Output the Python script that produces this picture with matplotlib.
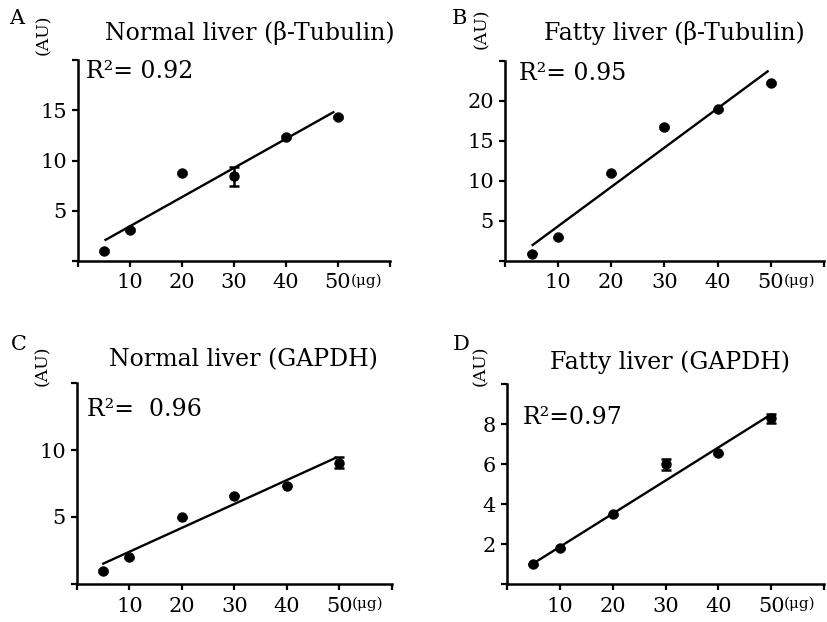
import matplotlib
matplotlib.use('Agg')
import matplotlib.pyplot as plt
import numpy as np

W, H = 828, 622

# protein loaded (ug)
dose = [5, 10, 20, 30, 40, 50]

# A: normal liver, beta-tubulin
a_vals = [0.95, 3.1, 8.8, 8.45, 12.3, 14.3]
a_err = [0.1, 0.1, 0.1, 0.95, 0.1, 0.1]
a_fit_x = [5.3, 49.1]
a_fit_y = [2.1, 14.8]

# B: fatty liver, beta-tubulin
b_vals = [0.93, 2.96, 10.96, 16.75, 18.96, 22.25]
b_err = [0.1, 0.1, 0.1, 0.1, 0.1, 0.1]
b_fit_x = [5.2, 49.4]
b_fit_y = [2.0, 23.7]

# C: normal liver, GAPDH
c_vals = [0.98, 2.0, 4.98, 6.58, 7.35, 9.05]
c_err = [0.05, 0.05, 0.05, 0.05, 0.05, 0.42]
c_fit_x = [5.0, 49.2]
c_fit_y = [1.52, 9.4]

# D: fatty liver, GAPDH
d_vals = [0.98, 1.78, 3.48, 5.98, 6.53, 8.28]
d_err = [0.03, 0.03, 0.03, 0.28, 0.03, 0.24]
d_fit_x = [5.3, 49.8]
d_fit_y = [1.08, 8.45]

titles = ['Normal liver (\u03b2-Tubulin)', 'Fatty liver (\u03b2-Tubulin)',
          'Normal liver (GAPDH)', 'Fatty liver (GAPDH)']
r2_text = ['R\u00b2= 0.92', 'R\u00b2= 0.95', 'R\u00b2=  0.96', 'R\u00b2=0.97']
letters = ['A', 'B', 'C', 'D']
y_max = [20, 25, 15, 10]
y_ticks = [[0, 5, 10, 15, 20], [0, 5, 10, 15, 20, 25],
           [0, 5, 10, 15], [0, 2, 4, 6, 8, 10]]
x_ticks = [0, 10, 20, 30, 40, 50, 60]
x_labels = ['', '10', '20', '30', '40', '50', '']

plt.rcParams['font.family'] = ['DejaVu Serif']

fig = plt.figure(figsize=(W / 100, H / 100), dpi=100)

# axes boxes in pixels: left, top, right, bottom
boxes = [(78, 60, 390, 261), (505, 61, 824, 261),
         (77, 383, 392, 584), (507, 384, 824, 584)]
title_pos = [(250, 33), (674, 33), (243, 360), (670, 362)]
r2_pos = [(86, 72), (519, 73), (87, 410), (523, 417)]
letter_pos = [(17, 19), (460, 18), (19, 345), (461, 345)]
au_pos = [(44, 35), (482, 29), (43, 366), (481, 366)]

series = [(a_vals, a_err, a_fit_x, a_fit_y), (b_vals, b_err, b_fit_x, b_fit_y),
          (c_vals, c_err, c_fit_x, c_fit_y), (d_vals, d_err, d_fit_x, d_fit_y)]

for i, (vals, err, fx, fy) in enumerate(series):
    l, t, r, b = boxes[i]
    ax = fig.add_axes([l / W, 1 - b / H, (r - l) / W, (b - t) / H])
    ax.errorbar(dose, vals, yerr=err, fmt='o', color='black', markersize=6.5,
                elinewidth=1.8, capsize=3.5, capthick=1.8, zorder=3)
    ax.plot(fx, fy, color='black', lw=1.7)
    ax.set_xlim(0, 60)
    ax.set_ylim(0, y_max[i])
    ax.set_xticks(x_ticks)
    ax.set_xticklabels(x_labels)
    yt = y_ticks[i]
    ax.set_yticks(yt)
    ax.set_yticklabels([''] + [str(v) for v in yt[1:-1]] + [''])
    for s in ['top', 'right']:
        ax.spines[s].set_visible(False)
    for s in ['left', 'bottom']:
        ax.spines[s].set_linewidth(1.8)
    ax.tick_params(axis='both', direction='out', length=4, width=1.6,
                   labelsize=15)
    ax.tick_params(axis='x', pad=5)
    ax.tick_params(axis='y', pad=4)
    ax.annotate('(\u03bcg)', xy=(50, 0), xycoords=('data', 'axes fraction'),
                xytext=(9, -14), textcoords='offset points',
                ha='left', va='center', fontsize=11)

    x, y = title_pos[i]
    fig.text(x / W, 1 - y / H, titles[i], ha='center', va='center', fontsize=17)
    x, y = r2_pos[i]
    fig.text(x / W, 1 - y / H, r2_text[i], ha='left', va='center', fontsize=17)
    x, y = letter_pos[i]
    fig.text(x / W, 1 - y / H, letters[i], ha='center', va='center', fontsize=15)
    x, y = au_pos[i]
    fig.text(x / W, 1 - y / H, '(AU)', ha='center', va='center', fontsize=12.5,
             rotation=90)

fig.savefig('out.png', dpi=100)
